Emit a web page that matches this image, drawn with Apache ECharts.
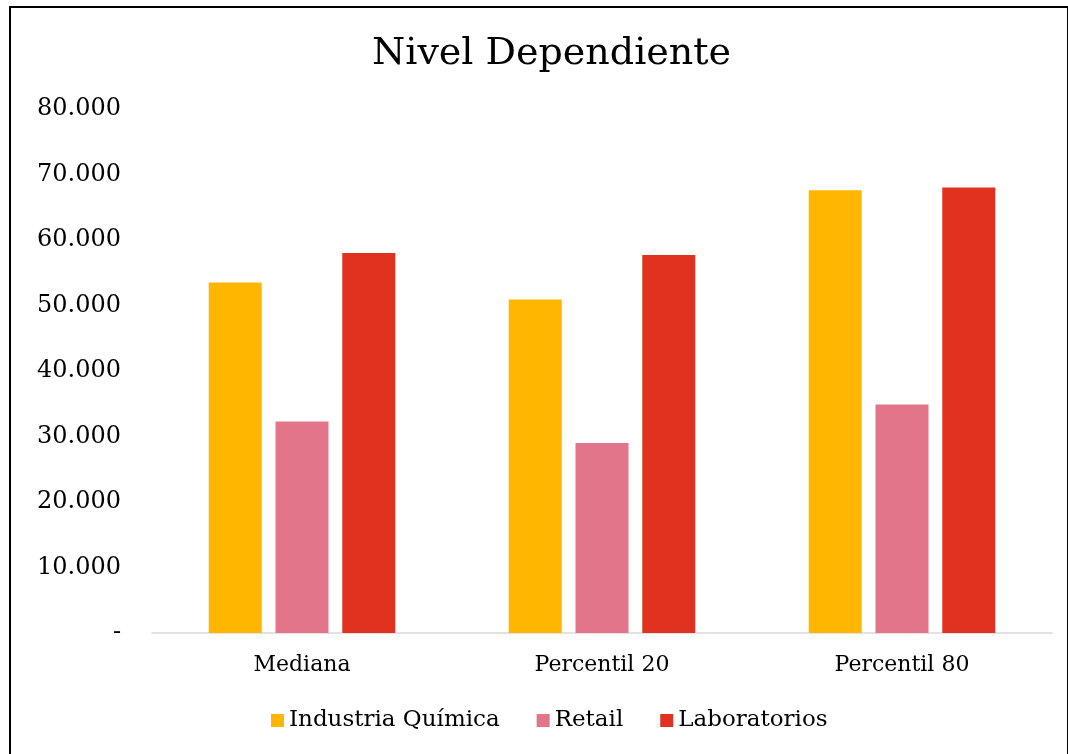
<!DOCTYPE html>
<html>
<head>
<meta charset="utf-8">
<script src="https://cdn.jsdelivr.net/npm/echarts@6/dist/echarts.min.js"></script>
<style>
  html, body { margin: 0; padding: 0; background: #fff; }
  #frame { position: absolute; left: 9px; top: 6px; width: 1060px; height: 760px; border: 2px solid #000; box-sizing: border-box; }
  #main { position: absolute; left: 0; top: 0; width: 1068px; height: 754px; }
</style>
</head>
<body>
<div id="frame"></div>
<div id="main"></div>
<script>
var categories = ['Mediana', 'Percentil 20', 'Percentil 80']
var seriesNames = ['Industria Química', 'Retail', 'Laboratorios']
var quimica = [53500, 50900, 67600]
var retail = [32300, 29000, 34900]
var laboratorios = [58000, 57700, 68000]
var colors = ['#FFB600', '#E2758A', '#E0321F']

var font = 'DejaVu Serif'
var myChart = echarts.init(document.getElementById('main'))

function fmt(v) {
  if (v === 0) return '-'
  return String(v).replace(/\B(?=(\d{3})+(?!\d))/g, '.')
}

var option = {
  backgroundColor: 'transparent',
  animation: false,
  color: colors,
  title: {
    text: 'Nivel Dependiente',
    left: 367,
    top: 30,
    textStyle: { fontFamily: font, fontSize: 38, fontWeight: 'normal', color: '#000' }
  },
  legend: {
    bottom: 17,
    left: 266,
    itemWidth: 13,
    itemHeight: 13,
    itemGap: 37,
    itemTextGap: 9,
    icon: 'rect',
    textStyle: { fontFamily: font, fontSize: 23, color: '#000' },
    data: seriesNames
  },
  grid: { left: 152, right: 16, top: 109, bottom: 121, containLabel: false },
  xAxis: {
    type: 'category',
    data: categories,
    axisTick: { show: false },
    axisLine: { lineStyle: { color: '#d9d9d9', width: 1.5 } },
    axisLabel: { fontFamily: font, fontSize: 22, color: '#000', margin: 21 }
  },
  yAxis: {
    type: 'value',
    min: 0,
    max: 80000,
    interval: 10000,
    splitLine: { show: false },
    axisLine: { show: false },
    axisTick: { show: false },
    axisLabel: { fontFamily: font, fontSize: 24, color: '#000', margin: 31, formatter: fmt }
  },
  series: [
    { name: seriesNames[0], type: 'bar', data: quimica, barWidth: 53, barGap: '26%' },
    { name: seriesNames[1], type: 'bar', data: retail, barWidth: 53, barGap: '26%' },
    { name: seriesNames[2], type: 'bar', data: laboratorios, barWidth: 53, barGap: '26%' }
  ]
}
myChart.setOption(option)
</script>
</body>
</html>
